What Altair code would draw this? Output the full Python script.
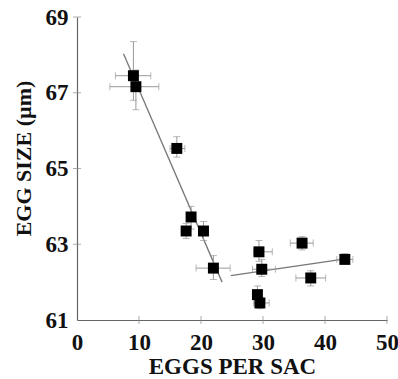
import altair as alt
import pandas as pd

# Eggs per sac (x) and egg size in µm (y), with error-bar extents
eggs = [9.1, 9.5, 16.1, 18.4, 17.6, 20.4, 22.0, 29.35, 29.8, 29.1, 29.5, 36.3, 37.7, 43.2]
eggs_lo = [6.2, 5.3, 15.0, 17.9, 17.0, 19.6, 19.2, 28.5, 28.3, 28.4, 28.5, 34.4, 35.3, 41.9]
eggs_hi = [11.9, 13.2, 17.4, 18.9, 18.2, 21.2, 24.7, 31.5, 32.0, 29.8, 31.0, 38.1, 40.1, 44.5]
size = [67.45, 67.16, 65.53, 63.72, 63.35, 63.35, 62.37, 62.8, 62.34, 61.67, 61.45, 63.03, 62.11, 62.6]
size_lo = [66.8, 66.55, 65.3, 63.4, 63.15, 63.1, 62.07, 62.55, 62.15, 61.45, 61.3, 62.85, 61.9, 62.5]
size_hi = [68.35, 67.6, 65.84, 64.0, 63.55, 63.6, 62.7, 63.1, 62.6, 61.9, 61.6, 63.2, 62.3, 62.75]

# Two fitted line segments
seg_id = ["a", "a", "b", "b"]
seg_x = [7.5, 23.4, 24.8, 43.0]
seg_y = [68.03, 62.0, 62.17, 62.61]

x_ticks = [0, 10, 20, 30, 40, 50]
y_ticks = [61, 63, 65, 67, 69]

df = pd.DataFrame({"x": eggs, "xlo": eggs_lo, "xhi": eggs_hi,
                   "y": size, "ylo": size_lo, "yhi": size_hi})
segs = pd.DataFrame({"seg": seg_id, "x": seg_x, "y": seg_y})

FONT = "Liberation Serif"
xs = alt.Scale(domain=[0, 50], nice=False, zero=False)
ys = alt.Scale(domain=[61, 69], nice=False, zero=False)

xaxis = alt.Axis(values=x_ticks, title="EGGS PER SAC", grid=False, ticks=False,
                 domainColor="#666", domainWidth=1.2,
                 labelFont=FONT, labelFontWeight="bold", labelFontSize=23, labelColor="#111",
                 labelPadding=11, titleFont=FONT, titleFontWeight="bold", titleFontSize=23,
                 titleColor="#111", titlePadding=1, labelFlush=False)
yaxis = alt.Axis(values=y_ticks, title="EGG SIZE (µm)", grid=False, ticks=False,
                 domainColor="#666", domainWidth=1.2,
                 labelFont=FONT, labelFontWeight="bold", labelFontSize=23, labelColor="#111",
                 labelPadding=9, titleFont=FONT, titleFontWeight="bold", titleFontSize=22,
                 titleColor="#111", titlePadding=10, titleY=141, labelFlush=False)

base = alt.Chart(df)
EB = "#999999"

points = base.mark_square(size=120, color="black", opacity=1, filled=True).encode(
    x=alt.X("x:Q", scale=xs, axis=xaxis),
    y=alt.Y("y:Q", scale=ys, axis=yaxis),
)
xerr = base.mark_rule(color=EB, strokeWidth=1).encode(
    x=alt.X("xlo:Q", scale=xs), x2="xhi:Q", y=alt.Y("y:Q", scale=ys))
yerr = base.mark_rule(color=EB, strokeWidth=1).encode(
    y=alt.Y("ylo:Q", scale=ys), y2="yhi:Q", x=alt.X("x:Q", scale=xs))
xcap_lo = base.mark_tick(color=EB, orient="vertical", size=7, thickness=1).encode(
    x=alt.X("xlo:Q", scale=xs), y=alt.Y("y:Q", scale=ys))
xcap_hi = base.mark_tick(color=EB, orient="vertical", size=7, thickness=1).encode(
    x=alt.X("xhi:Q", scale=xs), y=alt.Y("y:Q", scale=ys))
ycap_lo = base.mark_tick(color=EB, orient="horizontal", size=7, thickness=1).encode(
    x=alt.X("x:Q", scale=xs), y=alt.Y("ylo:Q", scale=ys))
ycap_hi = base.mark_tick(color=EB, orient="horizontal", size=7, thickness=1).encode(
    x=alt.X("x:Q", scale=xs), y=alt.Y("yhi:Q", scale=ys))

lines = alt.Chart(segs).mark_line(color="#777", strokeWidth=1.3).encode(
    x=alt.X("x:Q", scale=xs), y=alt.Y("y:Q", scale=ys), detail="seg:N")

# inward tick marks
xt = pd.DataFrame({"t": x_ticks[1:]})
yt = pd.DataFrame({"t": y_ticks[1:]})
xtick_marks = alt.Chart(xt).mark_tick(color="#888", orient="vertical", size=8, thickness=1).encode(
    x=alt.X("t:Q", scale=xs), y=alt.datum(61, scale=ys))
ytick_marks = alt.Chart(yt).mark_tick(color="#888", orient="horizontal", size=8, thickness=1).encode(
    y=alt.Y("t:Q", scale=ys), x=alt.datum(0, scale=xs))

chart = alt.layer(
    xtick_marks, ytick_marks, lines, xerr, yerr, xcap_lo, xcap_hi, ycap_lo, ycap_hi, points
).properties(
    width=310, height=303,
    autosize=alt.AutoSizeParams(type="none"),
    padding={"left": 77, "top": 17, "right": 11, "bottom": 59},
    background="white",
).configure_view(stroke=None)

chart.save("out.html", embed_options={"renderer": "svg", "actions": False})
